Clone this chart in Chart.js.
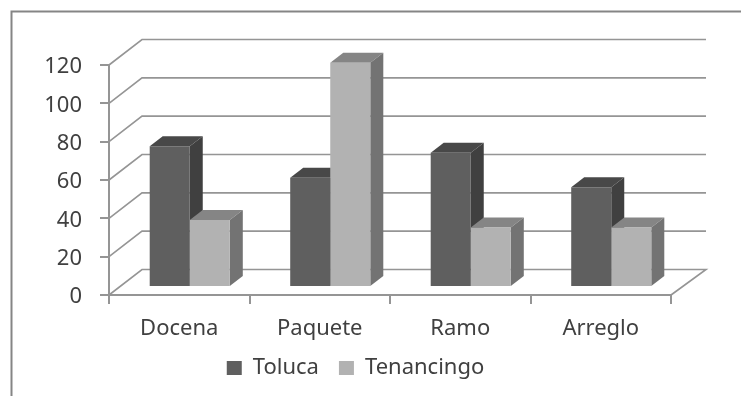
<!DOCTYPE html>
<html>
<head>
<meta charset="utf-8">
<script src="https://cdn.jsdelivr.net/npm/chart.js@4"></script>
<style>
  html, body { margin: 0; padding: 0; background: #fff; overflow: hidden; }
  canvas { display: block; filter: blur(0.55px); }
</style>
</head>
<body>
<canvas id="chart" width="741" height="396"></canvas>
<script>
const categories = ['Docena', 'Paquete', 'Ramo', 'Arreglo'];
const toluca = [73.5, 57, 70, 52];
const tenancingo = [35, 117, 31, 31];
const yTicks = [0, 20, 40, 60, 80, 100, 120];

const faces = [
  { side: '#404040', top: '#484848' },
  { side: '#737373', top: '#858585' }
];

// 3D look: walls behind the bars and a top/side face on each bar
const box3d = {
  id: 'box3d',
  afterLayout(chart) {
    // legend sits right of the plot centre and close under the labels
    chart.legend.left += 20;
    chart.legend.right += 20;
    chart.legend.top -= 14;
    chart.legend.bottom -= 14;
  },
  beforeDraw(chart) {
    const ctx = chart.ctx;
    ctx.save();
    ctx.strokeStyle = '#858585';
    ctx.lineWidth = 2;
    ctx.beginPath();
    ctx.moveTo(741, 11.5);
    ctx.lineTo(11.5, 11.5);
    ctx.lineTo(11.5, 396);
    ctx.stroke();
    ctx.restore();
  },
  beforeDatasetsDraw(chart) {
    const ctx = chart.ctx;
    const { left, right } = chart.chartArea;
    const y = chart.scales.y;
    ctx.save();
    ctx.strokeStyle = '#959595';
    ctx.lineWidth = 1.6;
    yTicks.forEach(v => {
      const py = y.getPixelForValue(v);
      ctx.beginPath();
      ctx.moveTo(left, py);
      ctx.lineTo(left + 33, py - 25.5);
      ctx.lineTo(right + 35, py - 25.5);
      if (v === 0) ctx.lineTo(right, py);
      ctx.stroke();
    });
    ctx.restore();
    // bars stand a little way in from the front of the floor
    ctx.save();
    ctx.translate(10.5, -8);
    const dx = 13, dy = 10;
    // all top/side faces first, the library then paints the fronts over them
    chart.data.datasets.forEach((ds, i) => {
      chart.getDatasetMeta(i).data.forEach(bar => {
        const l = bar.x - bar.width / 2, r = bar.x + bar.width / 2;
        ctx.fillStyle = faces[i].top;
        ctx.beginPath();
        ctx.moveTo(l, bar.y);
        ctx.lineTo(l + dx, bar.y - dy);
        ctx.lineTo(r + dx, bar.y - dy);
        ctx.lineTo(r, bar.y);
        ctx.fill();
        ctx.fillStyle = faces[i].side;
        ctx.beginPath();
        ctx.moveTo(r, bar.y);
        ctx.lineTo(r + dx, bar.y - dy);
        ctx.lineTo(r + dx, bar.base - dy);
        ctx.lineTo(r, bar.base);
        ctx.fill();
      });
    });
  },
  afterDatasetsDraw(chart) {
    chart.ctx.restore();
  }
};

new Chart(document.getElementById('chart').getContext('2d'), {
  type: 'bar',
  data: {
    labels: categories,
    datasets: [{
      label: 'Toluca',
      data: toluca,
      backgroundColor: '#5f5f5f',
      clip: false
    }, {
      label: 'Tenancingo',
      data: tenancingo,
      backgroundColor: '#b2b2b2',
      clip: false
    }]
  },
  options: {
    responsive: false,
    animation: false,
    layout: { padding: { top: 65, right: 70, left: 0, bottom: -7 } },
    categoryPercentage: 0.57,
    barPercentage: 1,
    plugins: {
      tooltip: { enabled: false },
      legend: {
        position: 'bottom',
        labels: {
          boxWidth: 15,
          boxHeight: 14,
          padding: 20,
          color: '#404040',
          font: { family: 'Noto Sans', size: 22 }
        }
      }
    },
    scales: {
      x: {
        afterFit(scale) { scale.height = 56; },
        border: { color: '#959595', width: 2 },
        grid: { drawOnChartArea: false, color: '#959595', lineWidth: 2, tickLength: 9 },
        ticks: { color: '#404040', padding: 12, font: { family: 'Noto Sans', size: 22 }, maxRotation: 0 }
      },
      y: {
        min: 0,
        max: 120,
        afterFit(scale) { scale.width = 109; },
        border: { color: '#959595', width: 2 },
        grid: { drawOnChartArea: false, color: '#959595', lineWidth: 2, tickLength: 9 },
        ticks: { stepSize: 20, color: '#404040', padding: 18, labelOffset: 2, font: { family: 'Noto Sans', size: 22 } }
      }
    }
  },
  plugins: [box3d]
});
</script>
</body>
</html>
